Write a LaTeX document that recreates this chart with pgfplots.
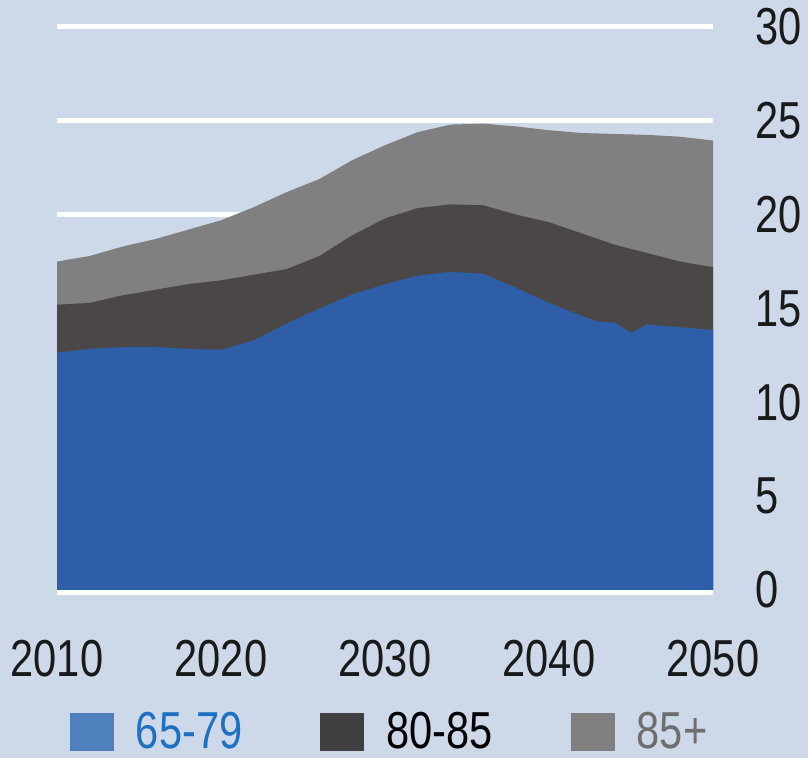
\documentclass[border=0pt]{standalone}
\usepackage{pgfplots}
\pgfplotsset{compat=1.18}
\usepackage{fontspec}
\setmainfont{Liberation Sans}[FakeStretch=0.8]
\definecolor{bg}{HTML}{CDD8E9}
\definecolor{bluearea}{HTML}{2F5EA8}
\definecolor{darkarea}{HTML}{4B4746}
\definecolor{grayarea}{HTML}{808080}
\definecolor{legblue}{HTML}{4F81BD}
\definecolor{legbluetext}{HTML}{1F70C1}
\definecolor{legdark}{HTML}{404040}
\definecolor{leggray}{HTML}{808080}
\definecolor{leggraytext}{HTML}{6E6E6E}
\definecolor{tickc}{HTML}{1A1A1A}
\begin{document}
\begin{tikzpicture}
\path[use as bounding box, fill=bg] (0,0) rectangle (404pt,379pt);
\begin{axis}[
  at={(28.5pt,84pt)}, anchor=south west,
  width=328pt, height=281.5pt, scale only axis,
  xmin=2010, xmax=2050, ymin=0, ymax=30,
  clip=false,
  no markers,
  axis line style={draw=none},
  major tick length=0pt,
  xtick={2010,2020,...,2050},
  ytick={0,5,...,30},
  yticklabel pos=right,
  ymajorgrids,
  grid style={white, line width=2.5pt},
  /pgf/number format/assume math mode=true,
  /pgf/number format/1000 sep={},
  xticklabel style={anchor=north, inner sep=0pt, yshift=-25pt, font=\fontsize{26}{30}\selectfont, text=tickc},
  yticklabel style={anchor=west, inner sep=0pt, xshift=21pt, font=\fontsize{26}{30}\selectfont, text=tickc},
  legend columns=3,
  legend style={at={(axis description cs:0.0198,-0.252)}, anchor=west, draw=none, fill=none, inner sep=0pt, outer sep=0pt,
    font=\fontsize{26}{30}\selectfont,
    /tikz/every even column/.append style={column sep=28pt},
    nodes={inner xsep=11pt, inner ysep=0pt}},
  legend image code/.code={\fill[#1, draw=none] (0pt,-9.5pt) rectangle (22pt,9.5pt);},
]
% total (85+ on top)
\addplot[draw=none, fill=grayarea, forget plot] coordinates {
(2010,17.5) (2012,17.8) (2014,18.3) (2016,18.7) (2018,19.2) (2020,19.7)
(2022,20.4) (2024,21.2) (2026,21.9) (2028,22.9) (2030,23.7) (2032,24.4)
(2034,24.8) (2036,24.85) (2038,24.7) (2040,24.5) (2042,24.35) (2044,24.3)
(2046,24.25) (2048,24.15) (2050,23.95)} \closedcycle;
% 65-79 + 80-85
\addplot[draw=none, fill=darkarea, forget plot] coordinates {
(2010,15.2) (2012,15.3) (2014,15.7) (2016,16.0) (2018,16.3) (2020,16.5)
(2022,16.8) (2024,17.1) (2026,17.8) (2028,18.9) (2030,19.8) (2032,20.35)
(2034,20.55) (2036,20.5) (2038,20.0) (2040,19.6) (2042,19.0) (2044,18.4)
(2046,17.95) (2048,17.5) (2050,17.2)} \closedcycle;
% 65-79
\addplot[draw=none, fill=bluearea, forget plot] coordinates {
(2010,12.65) (2012,12.85) (2014,12.95) (2016,12.95) (2018,12.85) (2020,12.8)
(2022,13.3) (2024,14.2) (2026,15.0) (2028,15.75) (2030,16.3) (2032,16.75)
(2034,16.95) (2036,16.85) (2038,16.1) (2040,15.3) (2042,14.6) (2043,14.3)
(2044,14.25) (2045,13.7) (2046,14.15) (2048,14.0) (2050,13.85)} \closedcycle;
\addplot[white, line width=2.5pt, forget plot] coordinates {(2010,-0.15) (2050,-0.15)};
\addlegendimage{fill=legblue, draw=none}
\addlegendentry{\textcolor{legbluetext}{65-79}}
\addlegendimage{fill=legdark, draw=none}
\addlegendentry{80-85\hspace{19pt}}
\addlegendimage{fill=leggray, draw=none}
\addlegendentry{\textcolor{leggraytext}{85+}}
\end{axis}
\end{tikzpicture}
\end{document}
